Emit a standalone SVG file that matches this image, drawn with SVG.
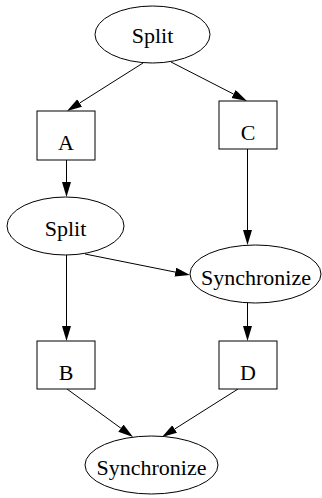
<svg xmlns="http://www.w3.org/2000/svg" width="322" height="498" viewBox="0 0 322 498">
<defs>
<style>
.n{fill:#fff;stroke:#000;stroke-width:1}
.t{font-family:"Liberation Serif","Times New Roman",serif;font-size:22px;fill:#000;text-anchor:middle}
.e{fill:none;stroke:#000;stroke-width:1}
</style>
<marker id="ah" markerUnits="userSpaceOnUse" markerWidth="16" markerHeight="10" refX="0" refY="4.5" orient="auto">
<path d="M0,0 L15,4.5 L0,9 z" fill="#000"/>
</marker>
</defs>
<rect width="322" height="498" fill="#fff"/>
<g id="edges">
<line class="e" x1="143" y1="63" x2="79.7" y2="103" marker-end="url(#ah)"/>
<line class="e" x1="171" y1="62" x2="233.6" y2="94.1" marker-end="url(#ah)"/>
<line class="e" x1="66.5" y1="160" x2="66.5" y2="182" marker-end="url(#ah)"/>
<line class="e" x1="247.5" y1="149" x2="247.5" y2="230" marker-end="url(#ah)"/>
<line class="e" x1="85" y1="254" x2="175.3" y2="272.1" marker-end="url(#ah)"/>
<line class="e" x1="66.5" y1="255" x2="66.5" y2="326" marker-end="url(#ah)"/>
<line class="e" x1="247.5" y1="303" x2="247.5" y2="326" marker-end="url(#ah)"/>
<line class="e" x1="67" y1="389" x2="120.9" y2="428.2" marker-end="url(#ah)"/>
<line class="e" x1="238" y1="389" x2="174.7" y2="429" marker-end="url(#ah)"/>
</g>
<g id="split1"><ellipse class="n" cx="152.5" cy="34.5" rx="57.5" ry="28.5"/><text class="t" x="152.5" y="43">Split</text></g>
<g id="A"><rect class="n" x="37" y="111" width="58" height="49"/><text class="t" x="66" y="150">A</text></g>
<g id="C"><rect class="n" x="219" y="101" width="58" height="48"/><text class="t" x="248" y="140">C</text></g>
<g id="split2"><ellipse class="n" cx="65.5" cy="226" rx="58.5" ry="29"/><text class="t" x="65.5" y="236">Split</text></g>
<g id="sync1"><ellipse class="n" cx="255.5" cy="274" rx="65.5" ry="29"/><text class="t" x="256" y="285">Synchronize</text></g>
<g id="B"><rect class="n" x="37" y="341" width="58" height="48"/><text class="t" x="66" y="380">B</text></g>
<g id="D"><rect class="n" x="219" y="341" width="58" height="48"/><text class="t" x="248" y="380">D</text></g>
<g id="sync2"><ellipse class="n" cx="151.5" cy="465" rx="66.5" ry="29"/><text class="t" x="151.5" y="475">Synchronize</text></g>
</svg>
